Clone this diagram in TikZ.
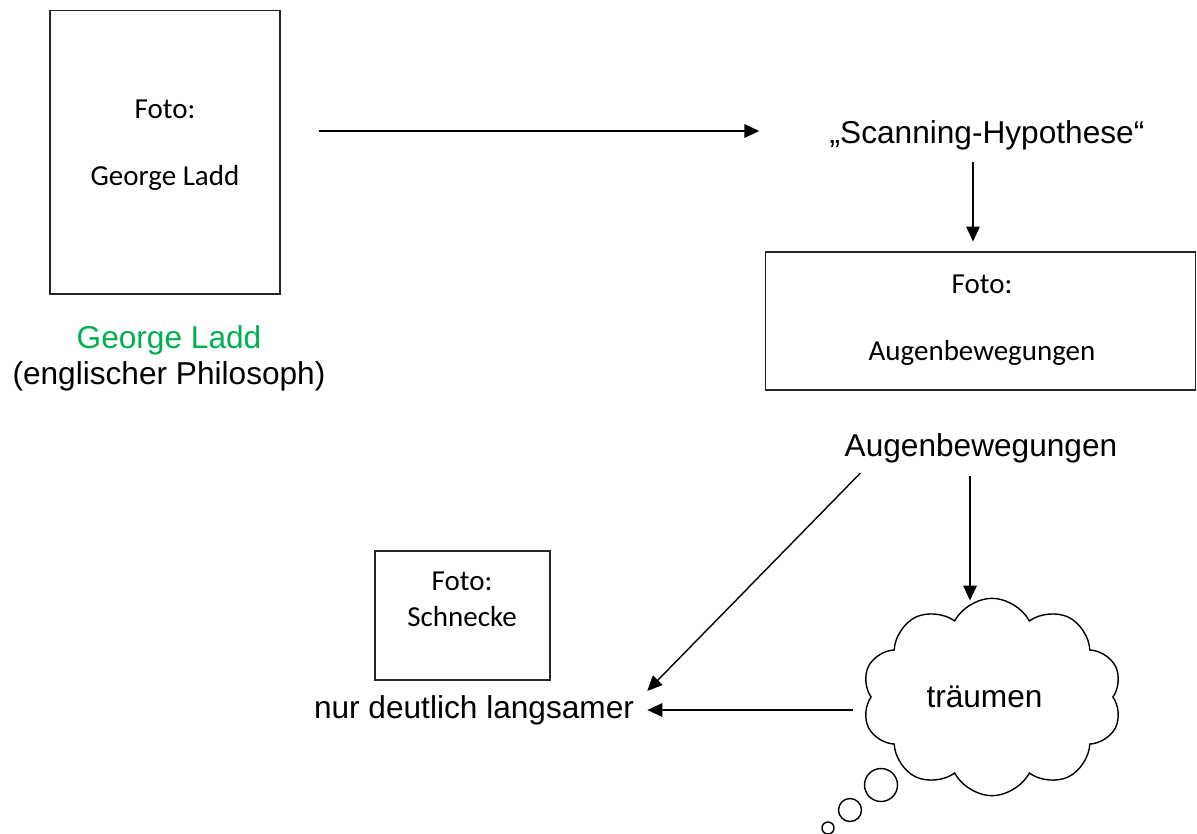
\documentclass[tikz,border=0pt]{standalone}
\usepackage{fontspec}
\setmainfont{Liberation Sans}
\newfontfamily\calibri{Carlito}
\usepackage{xcolor}
\usetikzlibrary{shapes.symbols,arrows.meta}
\definecolor{laddgreen}{RGB}{0,176,80}
\tikzstyle{photo}=[draw=black!85,line width=0.6pt,inner sep=0pt]
\tikzstyle{phototext}=[font=\calibri\fontsize{16.5}{20}\selectfont,align=center,inner sep=0pt]
\tikzstyle{txt}=[font=\fontsize{18}{20.5}\selectfont,align=center,inner sep=0pt]
\tikzstyle{link}=[-{Triangle[length=0.3cm,width=0.27cm]},line width=0.8pt]
\tikzstyle{thought}=[draw,line width=0.8pt,cloud,cloud puffs=10,cloud puff arc=125,cloud ignores aspect,inner sep=0pt]

\begin{document}
\begin{tikzpicture}[x=0.02cm,y=-0.02cm]
    \useasboundingbox (0,0) rectangle (1197,833);
    % photo placeholders
    \node[photo,minimum width=4.6cm,minimum height=5.68cm] (laddPhoto) at (165,152) {};
    \node[phototext] (laddFoto) at (165,145) {Foto:\\[0.64cm]George Ladd};
    \node[photo,minimum width=8.62cm,minimum height=2.76cm] (eyesPhoto) at (980.5,321) {};
    \node[phototext] (eyesFoto) at (982,320) {Foto:\\[0.64cm]Augenbewegungen};
    \node[photo,minimum width=3.5cm,minimum height=2.58cm] (snailPhoto) at (462.5,615.5) {};
    \node[phototext] (snailFoto) at (462,599) {Foto:\\[0.02cm]Schnecke};
    % texts
    \node[txt] (who) at (169,358) {\textcolor{laddgreen}{George Ladd}\\(englischer Philosoph)};
    \node[txt] (scan) at (987,135) {„Scanning-Hypothese“};
    \node[txt] (moves) at (981,448) {Augenbewegungen};
    \node[txt] (slow) at (474,710) {nur deutlich langsamer};
    \node[thought,txt,minimum width=5.2cm,minimum height=3.95cm] (dream) at (992,697) {träumen\hspace*{0.3cm}};
    \foreach \cx/\cy/\r in {881/785/16.5, 850/810/11.5, 828/828/6}
      \draw[line width=0.8pt] (\cx,\cy) circle[radius=\r];
    % arrows
    \draw[link,shorten <=0.76cm,shorten >=1.4cm] ([yshift=0.08cm]laddPhoto.east |- scan.west) -- ([yshift=0.08cm]scan.west);
    \draw[link,shorten <=0.24cm,shorten >=0.2cm] ([xshift=-0.28cm]scan.south) -- ([xshift=-0.28cm]scan.south |- eyesPhoto.north);
    \draw[link] ([shift={(16,10)}]moves.south west) -- ([shift={(13,-4)}]slow.north east);
    \draw[link,shorten >=0.2cm] ([shift={(-11,13)}]moves.south) -- ([shift={(-11,13)}]moves.south |- dream.north);
    \draw[link,shorten <=0.34cm,shorten >=0.26cm] (dream.west |- slow.east) -- (slow.east);
\end{tikzpicture}
\end{document}
